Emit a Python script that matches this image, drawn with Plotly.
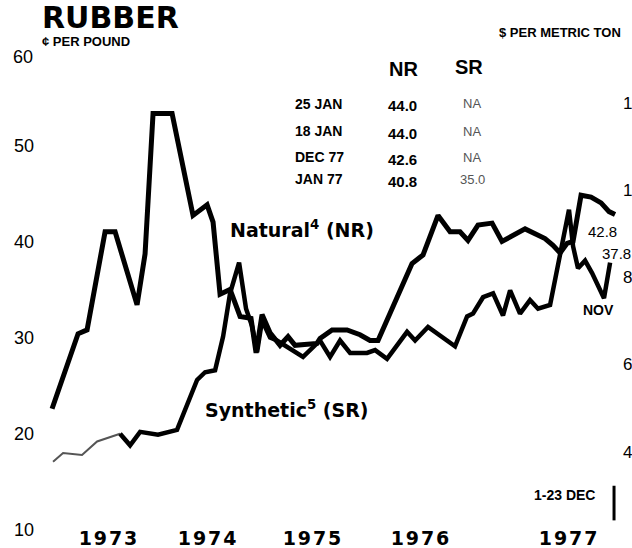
import plotly.graph_objects as go

# Rubber prices, US cents per pound (x = decimal year)
nr_t = [1973.000, 1973.231, 1973.311, 1973.471, 1973.560, 1973.755, 1973.826, 1973.897,
        1974.066, 1974.252, 1974.377, 1974.430, 1974.492, 1974.581, 1974.670, 1974.767,
        1974.812, 1974.865, 1974.936, 1975.025, 1975.096, 1975.158, 1975.353, 1975.380,
        1975.487, 1975.620, 1975.735, 1975.824, 1975.895, 1976.197, 1976.295, 1976.428,
        1976.535, 1976.623, 1976.694, 1976.783, 1976.908, 1976.996, 1977.201, 1977.378,
        1977.449, 1977.512, 1977.574, 1977.627, 1977.698, 1977.787, 1977.876, 1977.947,
        1978.000]
nr_v = [22.6, 30.4, 30.8, 41.0, 41.0, 33.4, 38.7, 53.3,
        53.3, 42.7, 43.8, 42.0, 34.5, 35.0, 32.2, 32.0,
        28.4, 32.4, 30.5, 29.2, 30.1, 29.2, 29.4, 29.9,
        30.8, 30.8, 30.3, 29.7, 29.7, 37.7, 38.6, 42.7,
        41.0, 41.0, 40.1, 41.7, 41.9, 40.0, 41.3, 40.3,
        39.6, 38.8, 39.8, 40.0, 44.8, 44.6, 44.0, 43.1,
        42.8]

# Synthetic rubber: early light segment, then the main series
sr_early_t = [1973.009, 1973.098, 1973.266, 1973.400, 1973.604]
sr_early_v = [17.1, 18.0, 17.8, 19.2, 20.0]

sr_t = [1973.604, 1973.693, 1973.782, 1973.941, 1974.110, 1974.288, 1974.359, 1974.448,
        1974.519, 1974.581, 1974.661, 1974.723, 1974.776, 1974.821, 1974.865, 1974.936,
        1974.998, 1975.114, 1975.229, 1975.380, 1975.469, 1975.558, 1975.647, 1975.797,
        1975.869, 1975.975, 1976.153, 1976.224, 1976.339, 1976.579, 1976.686, 1976.739,
        1976.828, 1976.917, 1977.005, 1977.068, 1977.156, 1977.245, 1977.316, 1977.423,
        1977.512, 1977.591, 1977.627, 1977.671, 1977.734, 1977.796, 1977.902, 1977.956]
sr_v = [20.0, 18.8, 20.2, 19.9, 20.4, 25.6, 26.4, 26.6,
        30.1, 34.6, 37.8, 33.0, 31.2, 28.5, 31.8, 30.0,
        29.7, 28.8, 28.0, 29.7, 28.0, 29.7, 28.4, 28.4,
        28.7, 27.8, 30.6, 29.7, 31.1, 29.1, 32.2, 32.5,
        34.2, 34.6, 32.3, 34.9, 32.5, 33.9, 33.0, 33.4,
        38.9, 43.3, 39.5, 37.2, 38.0, 36.7, 34.1, 37.8]

year_pos = [1973.497, 1974.377, 1975.309, 1976.268, 1977.583]
year_labels = ["1973", "1974", "1975", "1976", "1977"]

cent_ticks = [10, 20, 30, 40, 50]
top_tick = 60
ton_ticks = [400, 600, 800, 1000, 1200]
ton_labels = ["400", "600", "800", "1,000", "1,200"]
LB_PER_TONNE = 2204.62 / 100.0  # cents/lb -> $/metric ton

table_dates = ["25 JAN", "18 JAN", "DEC 77", "JAN 77"]
table_nr = ["44.0", "44.0", "42.6", "40.8"]
table_sr = ["NA", "NA", "NA", "35.0"]

W, H = 632, 548
L, R, T, B = 40, 12, 49, 18
PW, PH = W - L - R, H - T - B


def px(x):
    return (x - L) / PW


def py(y):
    return (H - B - y) / PH


fig = go.Figure()
fig.add_trace(go.Scatter(x=sr_early_t, y=sr_early_v, mode="lines",
                         line=dict(color="#555555", width=2), hoverinfo="skip"))
fig.add_trace(go.Scatter(x=sr_t, y=sr_v, mode="lines",
                         line=dict(color="black", width=4.5), hoverinfo="skip"))
fig.add_trace(go.Scatter(x=nr_t, y=nr_v, mode="lines",
                         line=dict(color="black", width=5), hoverinfo="skip"))
# carrier for the $/ton axis
fig.add_trace(go.Scatter(x=[nr_t[0]], y=[nr_v[0] * LB_PER_TONNE], yaxis="y2",
                         mode="lines", line=dict(width=0), hoverinfo="skip"))

fig.add_shape(type="line", xref="x", yref="y", x0=1977.991, x1=1977.991, y0=11.0, y1=14.6,
              line=dict(color="black", width=3))

ann = []
SANS = "Liberation Sans, Arial, sans-serif"
WIDE = "DejaVu Sans, sans-serif"


def text(s, x, y, size, family=SANS, color="black", xa="left", ya="middle"):
    ann.append(dict(text=s, x=px(x), y=py(y), xref="paper", yref="paper",
                    xanchor=xa, yanchor=ya, showarrow=False,
                    font=dict(family=family, size=size, color=color)))


text("<b>RUBBER</b>", 40, 18, 30, WIDE)
text("<b>¢ PER POUND</b>", 40, 42, 13)
text(str(top_tick), 35, 57, 18, xa="right")
text("<b>$ PER METRIC TON</b>", 497, 32, 13)
text("<b>NR</b>", 403, 69, 20, xa="center")
text("<b>SR</b>", 469, 67, 20, xa="center")
rows_y = [104, 131, 157, 179]
for d, n, s, ry in zip(table_dates, table_nr, table_sr, rows_y):
    text("<b>" + d + "</b>", 293, ry, 14)
    text("<b>" + n + "</b>", 402, ry + 2, 15, xa="center")
    text(s, 472, ry, 13, color="#555555", xa="center")
text("<b>Natural<sup>4</sup> (NR)</b>", 228, 229, 19, WIDE)
text("<b>Synthetic<sup>5</sup> (SR)</b>", 203, 409, 19, WIDE)
text("42.8", 602, 231, 15, xa="center")
text("37.8", 600, 253, 15)
text("<b>NOV</b>", 598, 310, 14, xa="center")
text("<b>1-23 DEC</b>", 564, 495, 14, xa="center")

HAIR = "\u200a"
fig.update_layout(
    width=W, height=H,
    margin=dict(l=L, r=R, t=T, b=B, pad=0, autoexpand=False),
    paper_bgcolor="white", plot_bgcolor="white",
    showlegend=False,
    annotations=ann,
    xaxis=dict(range=[1972.893, 1978.044], tickvals=year_pos,
               ticktext=["<b>" + HAIR.join(s) + "</b>" for s in year_labels],
               anchor="free", position=(5 / PH),
               showgrid=False, zeroline=False, showline=False, ticks="", automargin=False,
               tickfont=dict(family=WIDE, size=19, color="black"), ticklabelstandoff=0),
    yaxis=dict(range=[10, 60], tickvals=cent_ticks, showgrid=False, zeroline=False,
               showline=False, ticks="", automargin=False,
               tickfont=dict(family=SANS, size=18, color="black"), ticklabelstandoff=5),
    yaxis2=dict(range=[10 * LB_PER_TONNE, 60 * LB_PER_TONNE], overlaying="y", side="right",
                tickvals=ton_ticks, ticktext=ton_labels, showgrid=False, zeroline=False,
                showline=False, ticks="", automargin=False,
                tickfont=dict(family=SANS, size=17, color="black"), ticklabelstandoff=2),
)

fig.write_html("out.html")
